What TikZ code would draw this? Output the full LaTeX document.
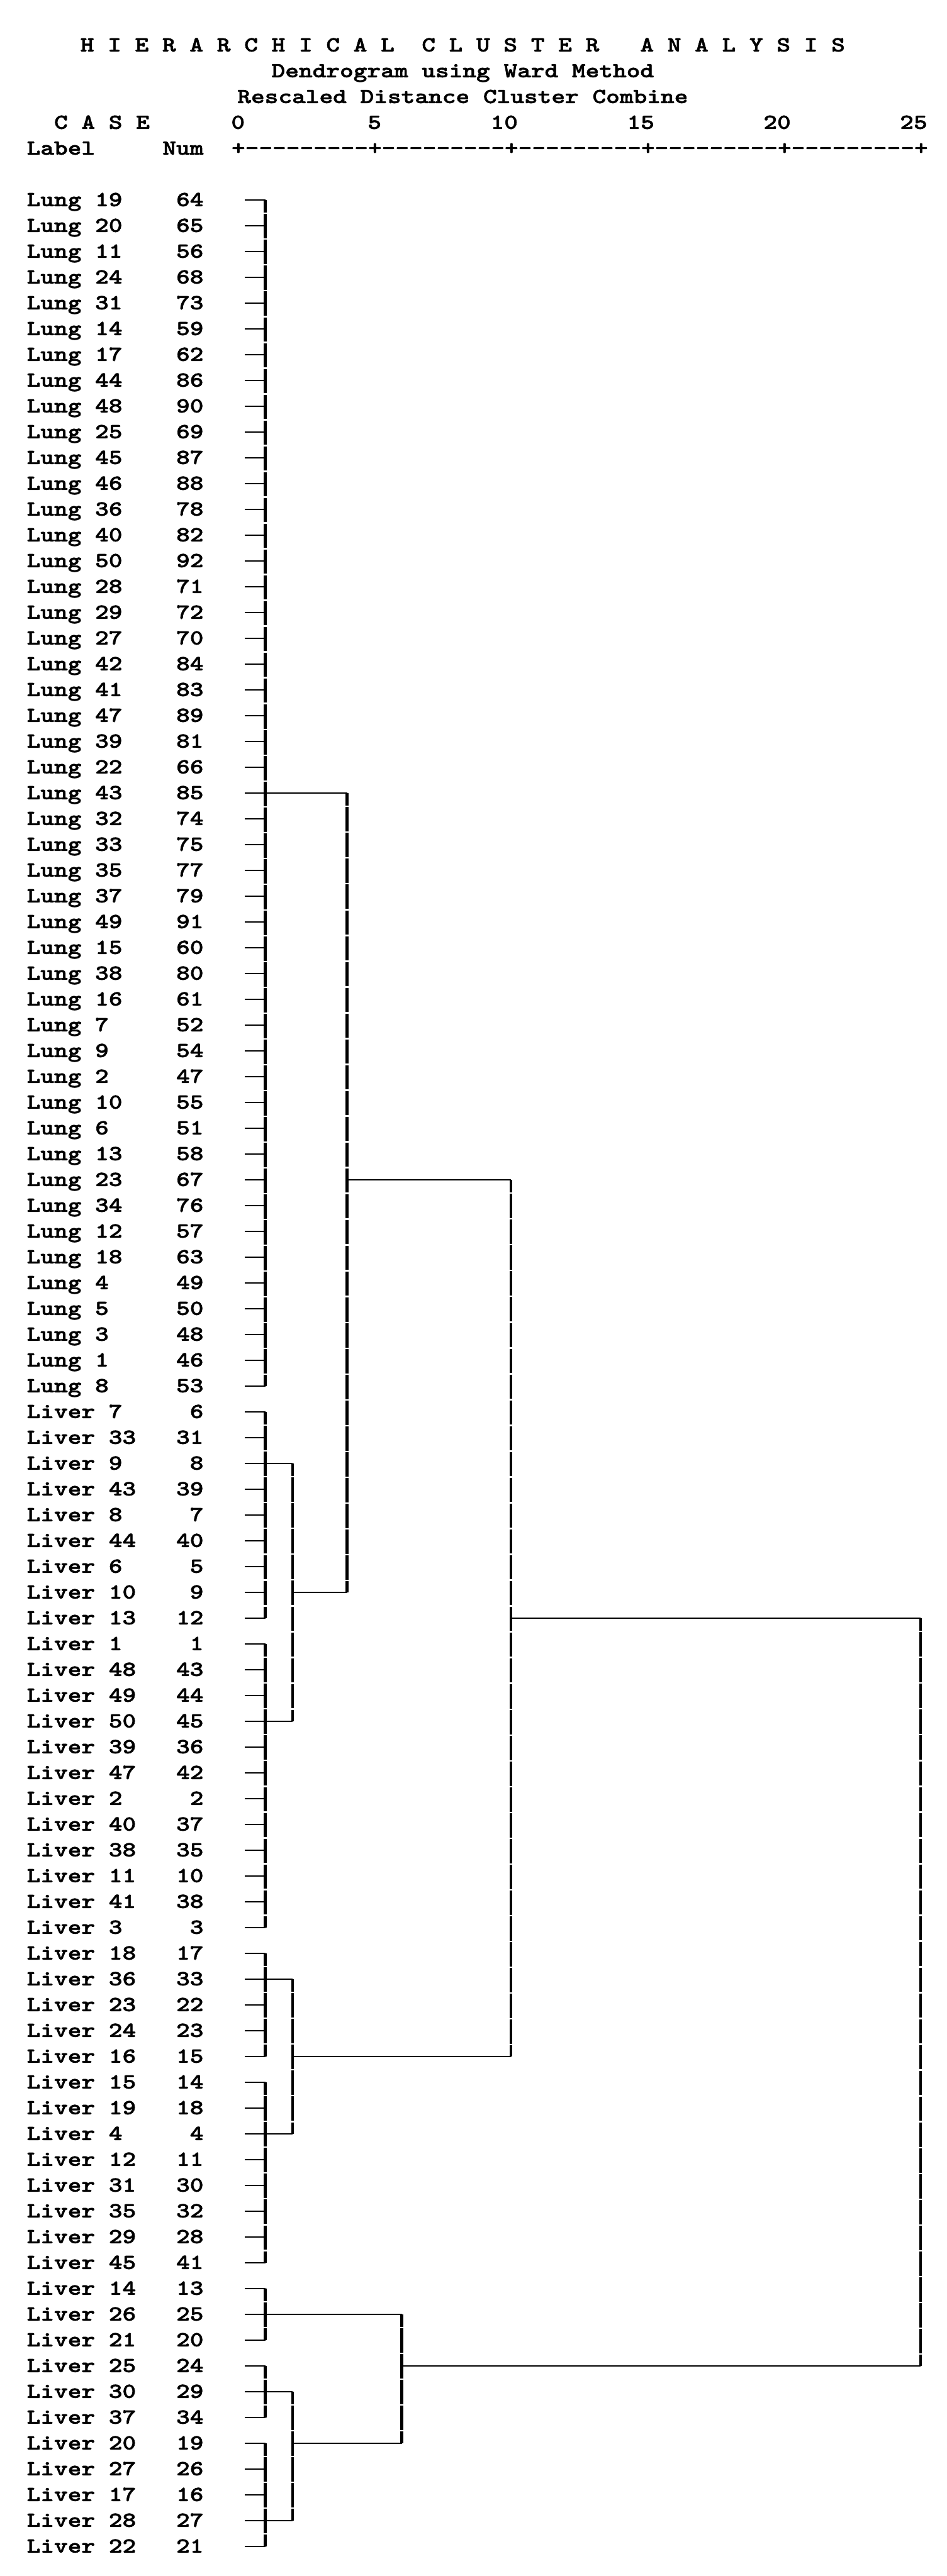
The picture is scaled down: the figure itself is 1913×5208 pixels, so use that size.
\documentclass[tikz,border=0pt]{standalone}
\usepackage{fontspec}
\setmonofont{lmmonolt10-bold}[Extension=.otf,FakeStretch=1.215,FakeBold=1.6]
\newcommand\spsstext{\ttfamily\fontsize{12.3pt}{15pt}\selectfont}

\begin{document}
\begin{tikzpicture}[x=0.01cm,y=-0.01cm,
  every node/.style={inner sep=0pt,font=\spsstext},
  lab/.style={anchor=base west},
  nr/.style={anchor=base east},
  hdr/.style={anchor=base},
  hline/.style={line width=.75pt},
  vline/.style={line width=1.7pt,dash pattern=on .4913cm off .03cm,dash phase=.2313cm}]
\useasboundingbox (0,0) rectangle (1913,5208);
% heading
\node[hdr] (title) at (935,104) {H I E R A R C H I C A L~~C L U S T E R~~~A N A L Y S I S};
\node[hdr] (method) at (935,156.2) {Dendrogram using Ward Method};
\node[hdr] (scale) at (935,208.4) {Rescaled Distance Cluster Combine};
\node[lab] (case) at (108.7,260.5) {C A S E};
\node[hdr] (t0) at (481,260.5) {0};
\node[hdr] (t5) at (756.8,260.5) {5};
\node[hdr] (t10) at (1018.8,260.5) {10};
\node[hdr] (t15) at (1294.6,260.5) {15};
\node[hdr] (t20) at (1570.4,260.5) {20};
\node[hdr] (t25) at (1846.2,260.5) {25};
\node[lab] (label) at (53.5,312.6) {Label};
\node[nr] (numhd) at (412,312.6) {Num};
\node[lab] (axis) at (467.2,312.6) {+---------+---------+---------+---------+---------+};
% columns of the tree
\coordinate (c2) at (536.2,0);
\coordinate (c4) at (591.3,0);
\coordinate (c8) at (701.6,0);
\coordinate (c12) at (812,0);
\coordinate (c20) at (1032.6,0);
\coordinate (c50) at (1860,0);
% cases
\foreach \lab/\nr [count=\i] in {Lung 19/64, Lung 20/65, Lung 11/56, Lung 24/68, Lung 31/73, Lung 14/59,
  Lung 17/62, Lung 44/86, Lung 48/90, Lung 25/69, Lung 45/87, Lung 46/88, Lung 36/78, Lung 40/82,
  Lung 50/92, Lung 28/71, Lung 29/72, Lung 27/70, Lung 42/84, Lung 41/83, Lung 47/89, Lung 39/81,
  Lung 22/66, Lung 43/85, Lung 32/74, Lung 33/75, Lung 35/77, Lung 37/79, Lung 49/91, Lung 15/60,
  Lung 38/80, Lung 16/61, Lung 7/52, Lung 9/54, Lung 2/47, Lung 10/55, Lung 6/51, Lung 13/58,
  Lung 23/67, Lung 34/76, Lung 12/57, Lung 18/63, Lung 4/49, Lung 5/50, Lung 3/48, Lung 1/46,
  Lung 8/53, Liver 7/6, Liver 33/31, Liver 9/8, Liver 43/39, Liver 8/7, Liver 44/40, Liver 6/5,
  Liver 10/9, Liver 13/12, Liver 1/1, Liver 48/43, Liver 49/44, Liver 50/45, Liver 39/36,
  Liver 47/42, Liver 2/2, Liver 40/37, Liver 38/35, Liver 11/10, Liver 41/38, Liver 3/3,
  Liver 18/17, Liver 36/33, Liver 23/22, Liver 24/23, Liver 16/15, Liver 15/14, Liver 19/18,
  Liver 4/4, Liver 12/11, Liver 31/30, Liver 35/32, Liver 29/28, Liver 45/41, Liver 14/13,
  Liver 26/25, Liver 21/20, Liver 25/24, Liver 30/29, Liver 37/34, Liver 20/19, Liver 27/26,
  Liver 17/16, Liver 28/27, Liver 22/21}{
  \pgfmathsetmacro\yy{403.8+52.13*(\i-1)}
  \pgfmathsetmacro\yb{\yy+13}
  \coordinate (r\i) at (494.8,\yy);
  \node[lab] (lab\i) at (53.5,\yb) {\lab};
  \node[nr] (num\i) at (412,\yb) {\nr};
  \draw[hline] (r\i) -- (r\i -| c2);
}
% first joins
\draw[vline] (r1 -| c2) -- (r47 -| c2);
\draw[vline] (r48 -| c2) -- (r56 -| c2);
\draw[vline] (r57 -| c2) -- (r68 -| c2);
\draw[vline] (r69 -| c2) -- (r73 -| c2);
\draw[vline] (r74 -| c2) -- (r81 -| c2);
\draw[vline] (r82 -| c2) -- (r84 -| c2);
\draw[vline] (r85 -| c2) -- (r87 -| c2);
\draw[vline] (r88 -| c2) -- (r92 -| c2);
\draw[hline] (r24) -- (r24 -| c8);
\draw[hline] (r50) -- (r50 -| c4);
\draw[hline] (r60) -- (r60 -| c4);
\draw[hline] (r70) -- (r70 -| c4);
\draw[hline] (r76) -- (r76 -| c4);
\draw[hline] (r83) -- (r83 -| c12);
\draw[hline] (r86) -- (r86 -| c4);
\draw[hline] (r91) -- (r91 -| c4);
% higher joins
\draw[vline] (r50 -| c4) -- (r60 -| c4);
\draw[vline] (r70 -| c4) -- (r76 -| c4);
\draw[vline] (r86 -| c4) -- (r91 -| c4);
\draw[hline] (r55 -| c4) -- (r55 -| c8);
\draw[hline] (r73 -| c4) -- (r73 -| c20);
\draw[hline] (r88 -| c4) -- (r88 -| c12);
\draw[vline] (r24 -| c8) -- (r55 -| c8);
\draw[vline] (r83 -| c12) -- (r88 -| c12);
\draw[hline] (r39 -| c8) -- (r39 -| c20);
\draw[vline] (r39 -| c20) -- (r73 -| c20);
\draw[hline] (r56 -| c20) -- (r56 -| c50);
\draw[hline] (r85 -| c12) -- (r85 -| c50);
\draw[vline] (r56 -| c50) -- (r85 -| c50);
\end{tikzpicture}
\end{document}
